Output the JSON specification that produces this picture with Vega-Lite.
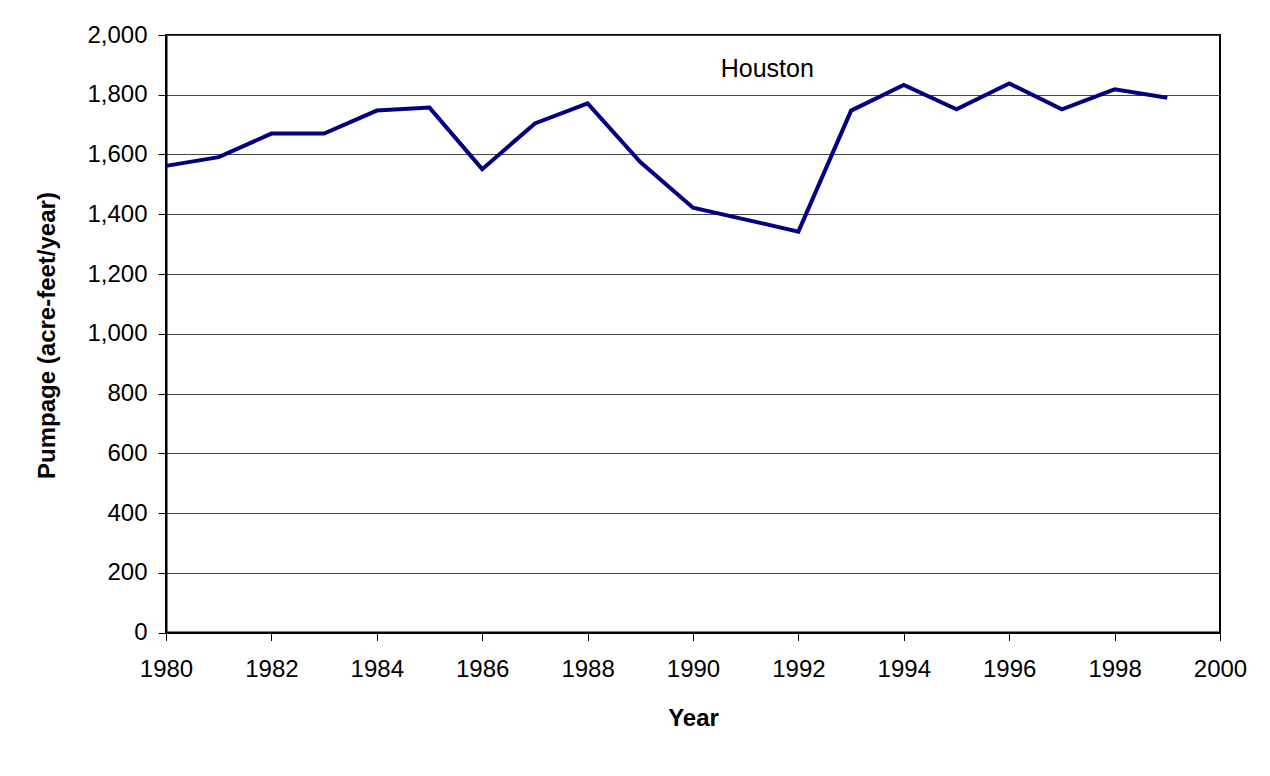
{
  "$schema": "https://vega.github.io/schema/vega-lite/v6.json",
  "width": 1054,
  "height": 597.5,
  "autosize": "none",
  "padding": {"left": 166, "top": 35, "right": 50, "bottom": 143.5},
  "background": "white",
  "config": {
    "view": {"stroke": "black", "strokeWidth": 2},
    "font": "Liberation Sans"
  },
  "datasets": {
    "pump": [
      {"year": 1980, "pumpage": 1562},
      {"year": 1981, "pumpage": 1591},
      {"year": 1982, "pumpage": 1670},
      {"year": 1983, "pumpage": 1670},
      {"year": 1984, "pumpage": 1747},
      {"year": 1985, "pumpage": 1757},
      {"year": 1986, "pumpage": 1551},
      {"year": 1987, "pumpage": 1704},
      {"year": 1988, "pumpage": 1771},
      {"year": 1989, "pumpage": 1575},
      {"year": 1990, "pumpage": 1422},
      {"year": 1991, "pumpage": 1382},
      {"year": 1992, "pumpage": 1342},
      {"year": 1993, "pumpage": 1747},
      {"year": 1994, "pumpage": 1833},
      {"year": 1995, "pumpage": 1751},
      {"year": 1996, "pumpage": 1838},
      {"year": 1997, "pumpage": 1751},
      {"year": 1998, "pumpage": 1818},
      {"year": 1999, "pumpage": 1790}
    ],
    "note": [
      {"year": 1991.41, "pumpage": 1859, "label": "Houston"}
    ]
  },
  "layer": [
    {
      "data": {"name": "pump"},
      "mark": {"type": "line", "color": "#000080", "strokeWidth": 4},
      "encoding": {
        "x": {
          "field": "year",
          "type": "quantitative",
          "scale": {"domain": [1980, 2000], "nice": false, "zero": false},
          "axis": {
            "values": [1980, 1982, 1984, 1986, 1988, 1990, 1992, 1994, 1996, 1998, 2000],
            "format": "d",
            "grid": false,
            "labelFlush": false,
            "labelOverlap": false,
            "domainColor": "black",
            "domainWidth": 2,
            "tickColor": "black",
            "tickWidth": 1,
            "tickSize": 8,
            "labelFontSize": 24,
            "labelColor": "black",
            "labelPadding": 17,
            "title": "Year",
            "titleFontSize": 24,
            "titleFontWeight": "bold",
            "titleColor": "black",
            "titleBaseline": "alphabetic",
            "titleY": 92.5
          }
        },
        "y": {
          "field": "pumpage",
          "type": "quantitative",
          "scale": {"domain": [0, 2000], "nice": false},
          "axis": {
            "values": [0, 200, 400, 600, 800, 1000, 1200, 1400, 1600, 1800, 2000],
            "format": ",d",
            "grid": true,
            "labelFlush": false,
            "labelOverlap": false,
            "gridColor": "#444444",
            "gridWidth": 1,
            "domainColor": "black",
            "domainWidth": 2,
            "tickColor": "black",
            "tickWidth": 1,
            "tickSize": 8,
            "labelFontSize": 24,
            "labelColor": "black",
            "labelPadding": 11,
            "title": "Pumpage (acre-feet/year)",
            "titleFontSize": 24,
            "titleFontWeight": "bold",
            "titleColor": "black",
            "titleX": -119,
            "titleY": 300,
            "titleBaseline": "middle"
          }
        }
      }
    },
    {
      "data": {"name": "note"},
      "mark": {"type": "text", "fontSize": 25, "color": "black", "align": "center", "baseline": "alphabetic"},
      "encoding": {
        "x": {"field": "year", "type": "quantitative"},
        "y": {"field": "pumpage", "type": "quantitative"},
        "text": {"field": "label"}
      }
    }
  ]
}
